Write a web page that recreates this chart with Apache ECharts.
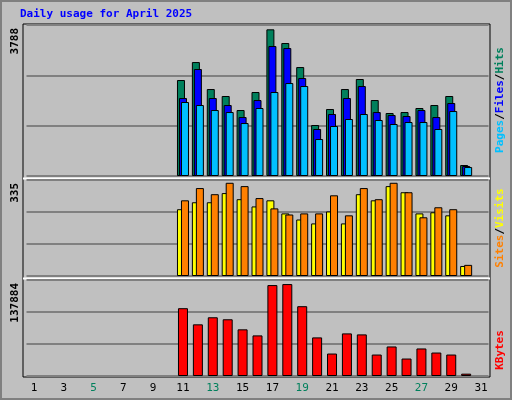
<!DOCTYPE html>
<html>
<head>
<meta charset="utf-8">
<script src="https://cdn.jsdelivr.net/npm/echarts@6/dist/echarts.min.js"></script>
<style>
  html, body { margin: 0; padding: 0; background: #c0c0c0; }
  #chart { width: 512px; height: 400px; }
</style>
</head>
<body>
<div id="chart"></div>
<script>
// 数据：4月每日统计（1-10日、31日无数据）
const days = Array.from({ length: 31 }, (_, i) => String(i + 1));
const weekendDays = ['5', '6', '12', '13', '19', '20', '26', '27'];
const pad = (arr) => [null, null, null, null, null, null, null, null, null, null, ...arr, null];

const hits = pad([2479, 2943, 2246, 2066, 1704, 2169, 3788, 3434, 2814, 1317, 1730, 2246, 2505, 1962, 1627, 1652, 1756, 1833, 2066, 284]);
const files = pad([2014, 2763, 2014, 1833, 1523, 1962, 3357, 3305, 2530, 1214, 1601, 2014, 2324, 1652, 1575, 1549, 1704, 1523, 1885, 258]);
const pages = pad([1911, 1833, 1704, 1652, 1368, 1756, 2169, 2401, 2324, 955, 1291, 1472, 1601, 1446, 1343, 1394, 1394, 1214, 1678, 232]);
const sites = pad([240, 265, 265, 298, 276, 250, 272, 225, 203, 189, 232, 189, 294, 272, 323, 301, 225, 229, 218, 36]);
const visits = pad([272, 316, 294, 335, 323, 280, 243, 221, 225, 225, 290, 218, 316, 276, 335, 301, 211, 247, 240, 40]);
const kbytes = pad([101700, 77500, 88100, 85100, 70000, 60900, 136400, 137884, 104700, 57900, 33700, 63900, 62400, 32200, 44300, 26200, 41300, 35200, 32200, 3500]);

const chart = echarts.init(document.getElementById('chart'));
const font = 'DejaVu Sans Mono';
const gridLeft = 26.5, gridRight = 512 - 488.5;

const xAxisBase = (idx, show) => ({
  type: 'category',
  gridIndex: idx,
  data: days,
  axisLine: { show: false },
  axisTick: { show: false },
  axisLabel: show ? {
    fontFamily: font, fontSize: 11, margin: 7,
    color: (v) => (weekendDays.includes(v) ? '#00805c' : '#000000'),
  } : { show: false },
});
const yAxisBase = (idx, max, interval) => ({
  type: 'value', gridIndex: idx, min: 0, max, interval,
  axisLabel: { show: false },
  axisLine: { show: false },
  axisTick: { show: false },
  splitLine: { lineStyle: { color: '#808080', width: 2 } },
});
const barStyle = (color) => ({ color, borderColor: '#000', borderWidth: 1 });

const rotText = (x, y, text, color, align) => ({
  type: 'text', x, y, rotation: Math.PI / 2,
  style: { text, fill: color, font: `bold 11px "${font}"`, align, verticalAlign: 'middle' },
});

chart.setOption({
  backgroundColor: '#c0c0c0',
  animation: false,
  grid: [
    { left: gridLeft, right: gridRight, top: 25, height: 151 },
    { left: gridLeft, right: gridRight, top: 180, height: 96 },
    { left: gridLeft, right: gridRight, top: 280, height: 96 },
  ],
  xAxis: [xAxisBase(0, false), xAxisBase(1, false), xAxisBase(2, true)],
  yAxis: [yAxisBase(0, 3900, 1300), yAxisBase(1, 345, 115), yAxisBase(2, 144000, 48000)],
  graphic: [
    { type: 'rect', shape: { x: 1, y: 1, width: 510, height: 398 }, style: { fill: 'none', stroke: '#808080', lineWidth: 2 } },
    { type: 'text', x: 20, y: 9, style: { text: 'Daily usage for April 2025', fill: '#0000ff', font: `bold 11px "${font}"` } },
    { type: 'rect', shape: { x: 23, y: 24, width: 467, height: 353 }, style: { fill: 'none', stroke: '#000', lineWidth: 1 } },
    { type: 'line', shape: { x1: 23, y1: 178.5, x2: 490, y2: 178.5 }, style: { stroke: '#fff', lineWidth: 2 } },
    { type: 'line', shape: { x1: 23, y1: 278.5, x2: 490, y2: 278.5 }, style: { stroke: '#fff', lineWidth: 2 } },
    rotText(15, 28, '3788', '#000', 'right'),
    rotText(15, 183, '335', '#000', 'right'),
    rotText(15, 283, '137884', '#000', 'right'),
    {
      type: 'text', x: 500, y: 100, rotation: Math.PI / 2,
      style: {
        text: '{p|Pages}{s|/}{f|Files}{s|/}{h|Hits}', align: 'center', verticalAlign: 'middle',
        rich: {
          p: { fill: '#00c0ff', font: `bold 11px "${font}"` },
          f: { fill: '#0000ff', font: `bold 11px "${font}"` },
          h: { fill: '#00805c', font: `bold 11px "${font}"` },
          s: { fill: '#000', font: `bold 11px "${font}"` },
        },
      },
    },
    {
      type: 'text', x: 500, y: 228, rotation: Math.PI / 2,
      style: {
        text: '{a|Sites}{s|/}{b|Visits}', align: 'center', verticalAlign: 'middle',
        rich: {
          a: { fill: '#ff8000', font: `bold 11px "${font}"` },
          b: { fill: '#ffff00', font: `bold 11px "${font}"` },
          s: { fill: '#000', font: `bold 11px "${font}"` },
        },
      },
    },
    rotText(500, 350, 'KBytes', '#ff0000', 'center'),
  ],
  series: [
    { type: 'bar', xAxisIndex: 0, yAxisIndex: 0, data: hits, barWidth: 8, barGap: '-75%', itemStyle: barStyle('#00805c') },
    { type: 'bar', xAxisIndex: 0, yAxisIndex: 0, data: files, barWidth: 8, barGap: '-75%', itemStyle: barStyle('#0000ff') },
    { type: 'bar', xAxisIndex: 0, yAxisIndex: 0, data: pages, barWidth: 8, barGap: '-75%', itemStyle: barStyle('#00c0ff') },
    { type: 'bar', xAxisIndex: 1, yAxisIndex: 1, data: sites, barWidth: 8, barGap: '-50%', itemStyle: barStyle('#ffff00') },
    { type: 'bar', xAxisIndex: 1, yAxisIndex: 1, data: visits, barWidth: 8, barGap: '-50%', itemStyle: barStyle('#ff8000') },
    { type: 'bar', xAxisIndex: 2, yAxisIndex: 2, data: kbytes, barWidth: 10, itemStyle: barStyle('#ff0000') },
  ],
});
</script>
</body>
</html>
